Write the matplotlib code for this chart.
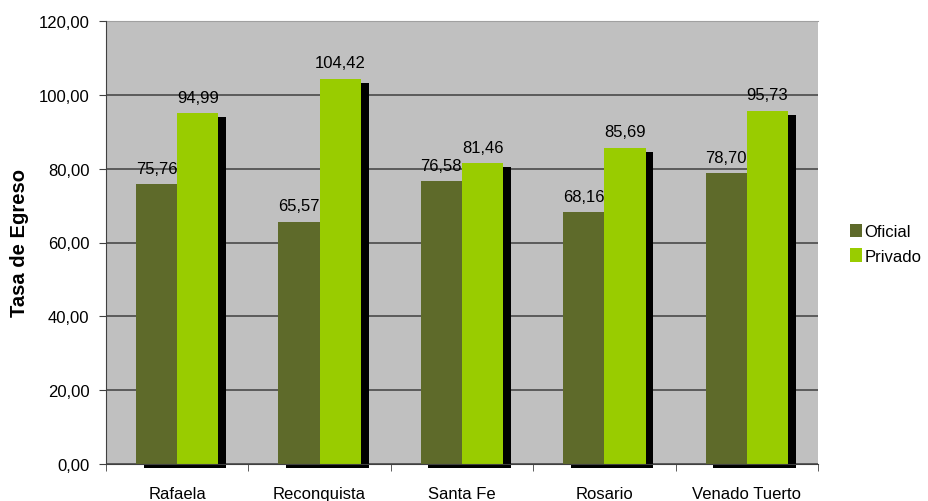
import numpy as np
import matplotlib
matplotlib.use("Agg")
import matplotlib.pyplot as plt
import matplotlib.patheffects as pe
from matplotlib.patches import Patch

plt.rcParams['font.family'] = ['Liberation Sans', 'DejaVu Sans']

ciudades = ["Rafaela", "Reconquista", "Santa Fe", "Rosario", "Venado Tuerto"]
oficial = [75.76, 65.57, 76.58, 68.16, 78.70]
privado = [94.99, 104.42, 81.46, 85.69, 95.73]

col_oficial = "#5E6A2A"
col_privado = "#99CC00"

def fmt(v):
    return "{:.2f}".format(v).replace(".", ",")

fig = plt.figure(figsize=(9.29, 5.02), dpi=100)
ax = fig.add_axes([106/929, 1-465/502, 712/929, 443/502])
ax.set_facecolor("#C0C0C0")

x = np.arange(len(ciudades))
w = 0.29
sombra = [pe.SimplePatchShadow(offset=(5.5, -3), shadow_rgbFace="black", alpha=1.0), pe.Normal()]
ax.bar(x - w/2, oficial, w, color=col_oficial, zorder=3, clip_on=False, path_effects=sombra)
ax.bar(x + w/2, privado, w, color=col_privado, zorder=4, clip_on=False, path_effects=sombra)

for xi, v in zip(x - w/2, oficial):
    ax.text(xi, v + 2.3, fmt(v), ha="center", va="bottom", fontsize=12, zorder=6)
for xi, v in zip(x + w/2, privado):
    ax.text(xi, v + 2.3, fmt(v), ha="center", va="bottom", fontsize=12, zorder=6)

ax.set_xlim(-0.5, len(ciudades) - 0.5)
ax.set_ylim(0, 120)
ax.set_yticks(np.arange(0, 121, 20))
ax.set_yticklabels([fmt(v) for v in np.arange(0, 121, 20)], fontsize=12)
ax.yaxis.grid(True, color="#404040", lw=1.1, zorder=1)
ax.set_axisbelow(True)

ax.set_xticks(x)
ax.set_xticklabels(ciudades, fontsize=12)
ax.set_xticks(np.arange(-0.5, len(ciudades), 1), minor=True)
ax.tick_params(axis="x", which="major", length=0, pad=16)
ax.tick_params(axis="x", which="minor", length=5, direction="out", color="#404040")
ax.tick_params(axis="y", length=5, direction="out", color="#404040", pad=7)

for s in ["left", "bottom"]:
    ax.spines[s].set_color("#404040")
    ax.spines[s].set_zorder(5)
ax.spines["top"].set_color("#A0A0A0")
ax.spines["right"].set_visible(False)

ax.set_ylabel("Tasa de Egreso", fontsize=14.5, fontweight="bold")
ax.yaxis.set_label_coords(-0.108, 0.5)

handles = [Patch(facecolor=col_oficial, label="Oficial"),
           Patch(facecolor=col_privado, label="Privado")]
ax.legend(handles=handles, loc="center left", bbox_to_anchor=(1.035, 0.497), frameon=False,
          fontsize=12, handlelength=0.75, handleheight=0.9, handletextpad=0.15, labelspacing=0.55,
          borderaxespad=0)

fig.savefig("out.png", dpi=100)
